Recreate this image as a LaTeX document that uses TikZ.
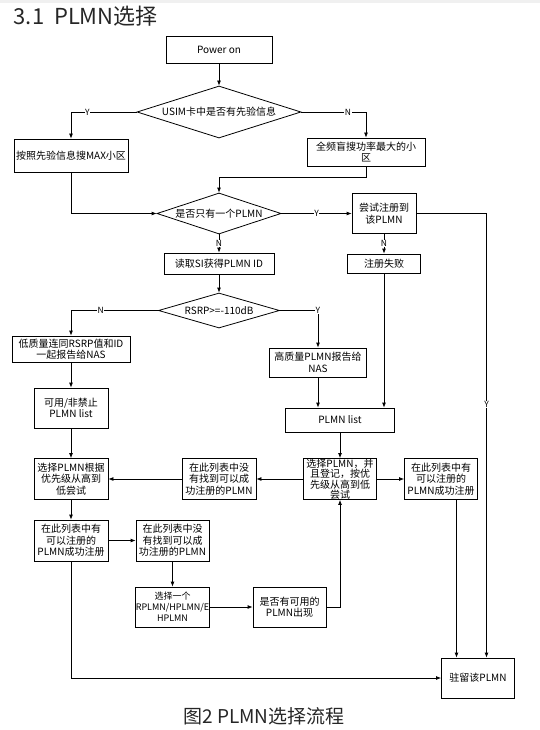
\documentclass[tikz,border=0pt]{standalone}
\usepackage{fontspec}
\setmainfont{Noto Sans CJK SC}
\usetikzlibrary{positioning,shapes.geometric,arrows.meta}

\begin{document}
\begin{tikzpicture}[
        x=1pt, y=-1pt,
        on grid,
        line width=0.8pt,
        >={Latex[length=5pt,width=4pt]},
        stepbox/.style={draw=black, rectangle, inner sep=0pt, align=center,
            font=\fontsize{10}{11.5}\selectfont},
        decide/.style={draw=black, diamond, inner sep=0pt, align=center,
            font=\fontsize{10}{11.5}\selectfont},
        lbl/.style={fill=white, inner sep=0.6pt, font=\fontsize{8.5}{9}\selectfont}]
        % page
        \useasboundingbox (0,0) rectangle (540,730);
        \fill[gray!12] (0,0) rectangle (540,3);
        % titles
        \node[anchor=west, text=black!85, font=\fontsize{22}{24}\selectfont] (title) at (10,16) {3.1 \ PLMN选择};
        \node[text=black!85, font=\fontsize{19}{21}\selectfont] (caption) at (264,716) {图2 PLMN选择流程};

        % NODES
        % start
        \node[stepbox, minimum width=106pt, minimum height=27pt] (power) at (219,49.5) {Power on};
        % first check
        \node[decide, aspect=3.15, minimum width=164pt, minimum height=52pt, below=62.5pt of power] (usim) {USIM卡中是否有先验信息};
        \node[stepbox, minimum width=114pt, minimum height=33pt, below left=43.5pt and 148pt of usim] (prior) {按照先验信息搜MAX小区};
        \node[stepbox, minimum width=118pt, minimum height=28pt, below right=40pt and 147pt of usim] (blind) {全频盲搜功率最大的小\\区};
        % second check
        \node[decide, aspect=3, minimum width=124pt, minimum height=41pt, below=101.5pt of usim] (only) {是否只有一个PLMN};
        \node[stepbox, minimum width=64pt, minimum height=40pt, right=165pt of only] (tryreg) {尝试注册到\\该PLMN};
        \node[stepbox, minimum width=110pt, minimum height=21pt, below=50pt of only] (readsi) {读取SI获得PLMN ID};
        \node[stepbox, minimum width=73pt, minimum height=19pt, below=50pt of tryreg] (regfail) {注册失败};
        % rsrp check
        \node[decide, aspect=3.5, minimum width=121pt, minimum height=35pt, below=47pt of readsi] (rsrp) {RSRP>=-110dB};
        \node[stepbox, minimum width=118pt, minimum height=26pt, below left=38.5pt and 148pt of rsrp] (lowq) {低质量连同RSRP值和ID\\一起报告给NAS};
        \node[stepbox, minimum width=97pt, minimum height=29pt, below right=52pt and 99pt of rsrp] (highq) {高质量PLMN报告给\\NAS};
        \node[stepbox, minimum width=74pt, minimum height=40pt, below=59pt of lowq] (avail) {可用/非禁止\\PLMN list};
        \node[stepbox, minimum width=109pt, minimum height=24pt, below right=57.5pt and 22pt of highq] (plmnlist) {PLMN list};
        % selection rows
        \node[stepbox, minimum width=74pt, minimum height=41pt, below=71pt of avail] (selprio) {选择PLMN根据\\优先级从高到\\低尝试};
        \node[stepbox, minimum width=73pt, minimum height=41pt, below=59pt of plmnlist,
            font=\fontsize{10}{10.4}\selectfont] (selreg) {选择PLMN，并\\且登记，按优\\先级从高到低\\尝试};
        \node[stepbox, minimum width=74pt, minimum height=41pt, left=121pt of selreg] (nofoundA) {在此列表中没\\有找到可以成\\功注册的PLMN};
        \node[stepbox, minimum width=73pt, minimum height=41pt, right=101pt of selreg] (foundR) {在此列表中有\\可以注册的\\PLMN成功注册};
        \node[stepbox, minimum width=74pt, minimum height=41pt, below=61.5pt of selprio] (foundL) {在此列表中有\\可以注册的\\PLMN成功注册};
        \node[stepbox, minimum width=73pt, minimum height=41pt, right=101.5pt of foundL] (nofoundB) {在此列表中没\\有找到可以成\\功注册的PLMN};
        \node[stepbox, minimum width=73pt, minimum height=40pt, below=66.5pt of nofoundB,
            font=\fontsize{9}{11}\selectfont] (selone) {选择一个\\RPLMN/HPLMN/E\\HPLMN};
        \node[stepbox, minimum width=73pt, minimum height=40pt, right=117pt of selone] (avail2) {是否有可用的\\PLMN出现};
        % end
        \node[stepbox, minimum width=73pt, minimum height=40pt, below right=199pt and 37pt of foundR] (camp) {驻留该PLMN};

        % ARROWS
        \draw[->] (power)--(usim);
        \draw[->] (usim.west) -| node[lbl, pos=0.375] {Y} (prior);
        \draw[->] (usim.east) -| node[lbl, pos=0.36] {N} (blind);
        \draw[->] (blind.south) -- ++(0,11) -| (only.north);
        \draw[->] (prior.south) |- (only.west);
        \draw[->] (only)-- node[lbl] {Y} (tryreg);
        \draw[->] (only)-- node[lbl] {N} (readsi);
        \draw[->] (tryreg)-- node[lbl] {N} (regfail);
        \draw[->] (tryreg.east) -| node[lbl, pos=0.715] {Y} ([xshift=8.5pt]camp.north);
        \draw[->] (readsi)--(rsrp);
        \draw[->] (rsrp.west) -| node[lbl, pos=0.33] {N} (lowq);
        \draw[->] (rsrp.east) -| node[lbl, pos=0.5] {Y} (highq);
        \draw[->] (lowq)--(avail);
        \draw[->] (highq)--(highq |- plmnlist.north);
        \draw[->] (regfail)--(regfail |- plmnlist.north);
        \draw[->] (avail)--(selprio);
        \draw[->] (plmnlist)--(selreg);
        \draw[->] (selreg)--(nofoundA);
        \draw[->] (nofoundA)--(selprio);
        \draw[->] (selreg)--(foundR);
        \draw[->] ([xshift=15.5pt]foundR.south)--([xshift=-21.5pt]camp.north);
        \draw[->] (selprio)--(foundL);
        \draw[->] (foundL)--(nofoundB);
        \draw[->] (nofoundB)--(selone);
        \draw[->] (selone)--(avail2);
        \draw[->] (avail2.east) -| (selreg.south);
        \draw[->] (foundL.south) |- (camp.west);
    \end{tikzpicture}
\end{document}
